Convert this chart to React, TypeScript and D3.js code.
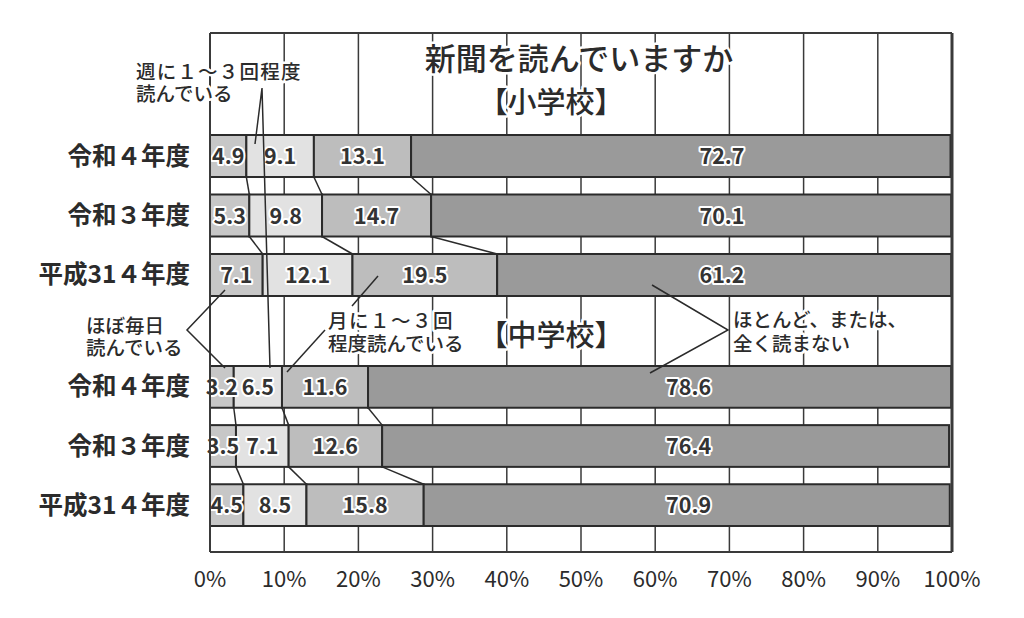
import * as d3 from "d3";

const years = ["令和４年度", "令和３年度", "平成31４年度"];
const categories = ["ほぼ毎日", "週に１～３回", "月に１～３回", "ほとんど読まない"];
const primaryValues = [
  [4.9, 9.1, 13.1, 72.7],
  [5.3, 9.8, 14.7, 70.1],
  [7.1, 12.1, 19.5, 61.2],
];
const middleValues = [
  [3.2, 6.5, 11.6, 78.6],
  [3.5, 7.1, 12.6, 76.4],
  [4.5, 8.5, 15.8, 70.9],
];
const ticks = [0, 10, 20, 30, 40, 50, 60, 70, 80, 90, 100];
const colors = ["#c7c7c7", "#e2e2e2", "#bdbdbd", "#9a9a9a"];

const W = 1024;
const H = 618;
const frame = { left: 210, right: 952, top: 33, bottom: 552 };
const font = "'Noto Sans CJK JP', 'Noto Sans', sans-serif";
const ink = "#2b2b2b";

export default function App() {
  const x = d3.scaleLinear().domain([0, 100]).range([frame.left, frame.right]);
  const yPrimary = d3.scaleBand().domain(years).range([135, 296]).paddingInner(0.294);
  const yMiddle = d3.scaleBand().domain(years).range([366, 526]).paddingInner(0.294);

  const groups = [
    { values: primaryValues, y: yPrimary, lastLabel: 69 },
    { values: middleValues, y: yMiddle, lastLabel: 64.5 },
  ];

  const halo = {
    stroke: "#fff",
    strokeWidth: 5,
    strokeLinejoin: "round" as const,
    paintOrder: "stroke",
  };

  return (
    <svg
      width={W}
      height={H}
      style={{ position: "absolute", left: 0, top: 0, background: "#fff" }}
      fontFamily={font}
    >
      <rect width={W} height={H} fill="#fff" />
      {/* gridlines */}
      {ticks.map((t) => (
        <line
          key={"g" + t}
          x1={x(t)}
          x2={x(t)}
          y1={frame.top}
          y2={frame.bottom}
          stroke="#3a3a3a"
          strokeWidth={1.5}
        />
      ))}
      <line x1={frame.left} x2={frame.right} y1={frame.top} y2={frame.top} stroke="#3a3a3a" strokeWidth={2} />
      <line x1={frame.left} x2={frame.right} y1={frame.bottom} y2={frame.bottom} stroke="#3a3a3a" strokeWidth={2} />

      {/* title */}
      <text x={579} y={70} textAnchor="middle" fontSize={31} fontWeight={500} fill={ink} style={halo}>
        新聞を読んでいますか
      </text>
      <text x={551} y={113} textAnchor="middle" fontSize={29} fontWeight={500} fill={ink} style={halo}>
        【小学校】
      </text>
      <text x={551} y={346} textAnchor="middle" fontSize={29} fontWeight={500} fill={ink} style={halo}>
        【中学校】
      </text>

      {groups.map((g, gi) => {
        const stacks = g.values.map((row) => {
          let acc = 0;
          return row.map((v) => {
            const s = { x0: acc, x1: acc + v, v };
            acc += v;
            return s;
          });
        });
        return (
          <g key={"grp" + gi}>
            {/* connector lines between adjacent bars */}
            {stacks.slice(0, -1).map((st, ri) =>
              st.slice(0, 3).map((seg, si) => (
                <line
                  key={`c${ri}-${si}`}
                  x1={x(seg.x1)}
                  x2={x(stacks[ri + 1][si].x1)}
                  y1={(g.y(years[ri]) ?? 0) + g.y.bandwidth()}
                  y2={g.y(years[ri + 1]) ?? 0}
                  stroke={ink}
                  strokeWidth={1.5}
                />
              ))
            )}
            {stacks.map((st, ri) => (
              <g key={"r" + ri}>
                {st.map((seg, si) => (
                  <rect
                    key={si}
                    x={x(seg.x0)}
                    y={g.y(years[ri])}
                    width={x(seg.x1) - x(seg.x0)}
                    height={g.y.bandwidth()}
                    fill={colors[si]}
                    stroke={ink}
                    strokeWidth={2}
                  >
                    <title>{categories[si]}</title>
                  </rect>
                ))}
                {st.map((seg, si) => (
                  <text
                    key={"t" + si}
                    x={si === 3 ? x(g.lastLabel) : (x(seg.x0) + x(seg.x1)) / 2}
                    y={(g.y(years[ri]) ?? 0) + g.y.bandwidth() / 2 + 8}
                    textAnchor="middle"
                    fontSize={21.5}
                    fontWeight={600}
                    fill="#333"
                    style={{ ...halo, strokeWidth: 4 }}
                  >
                    {seg.v.toFixed(1)}
                  </text>
                ))}
                <text
                  x={190}
                  y={(g.y(years[ri]) ?? 0) + g.y.bandwidth() / 2 + 8.5}
                  textAnchor="end"
                  fontSize={24.5}
                  fontWeight={700}
                  fill={ink}
                >
                  {years[ri]}
                </text>
              </g>
            ))}
          </g>
        );
      })}

      {/* frame sides */}
      <line x1={frame.left} x2={frame.left} y1={frame.top} y2={frame.bottom} stroke="#3a3a3a" strokeWidth={2} />
      <line x1={frame.right} x2={frame.right} y1={frame.top} y2={frame.bottom} stroke="#3a3a3a" strokeWidth={3} />

      {/* x tick labels */}
      {ticks.map((t) => (
        <text key={"tl" + t} x={x(t)} y={587} textAnchor="middle" fontSize={22} fill={ink}>
          {t}%
        </text>
      ))}

      {/* annotations */}
      <g stroke={ink} strokeWidth={1.5} fill="none">
        <polyline points="255,144 262,88 270,368" />
        <polyline points="225,290 187,330 225,368" />
        <line x1={352} y1={306} x2={378} y2={276} />
        <line x1={325} y1={330} x2={287} y2={372} />
        <polyline points="652,285 728,330 650,373" />
      </g>
      <g fontSize={19.5} fontWeight={500} fill={ink} style={halo}>
        <text x={136} y={79} letterSpacing={1.2}>週に１～３回程度</text>
        <text x={136} y={101}>読んでいる</text>
        <text x={86} y={333}>ほぼ毎日</text>
        <text x={86} y={355}>読んでいる</text>
        <text x={328} y={328} letterSpacing={1.5}>月に１～３回</text>
        <text x={328} y={351}>程度読んでいる</text>
        <text x={733} y={327}>ほとんど、または、</text>
        <text x={733} y={351}>全く読まない</text>
      </g>
    </svg>
  );
}
